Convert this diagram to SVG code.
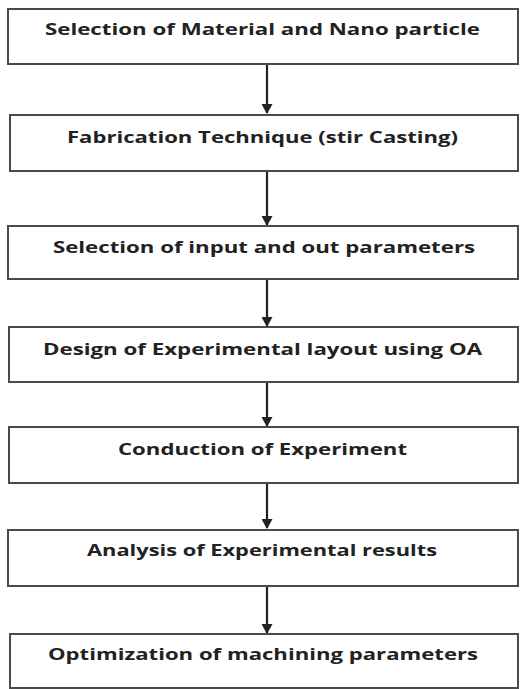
<svg xmlns="http://www.w3.org/2000/svg" width="520" height="689" viewBox="0 0 520 689">
<defs>
<style>
.box{fill:#fff;stroke:#4a4a4a;stroke-width:2}
.lbl{font-family:"Open Sans","Liberation Sans",sans-serif;font-weight:bold;font-size:16.5px;fill:#222}
.con{stroke:#222;stroke-width:2.2;fill:none}
</style>
<marker id="ah" markerWidth="10" markerHeight="11" refX="9" refY="5.5" orient="auto" markerUnits="userSpaceOnUse">
<path d="M0,0 L10,5.5 L0,11 Z" fill="#222"/>
</marker>
</defs>
<rect width="520" height="689" fill="#fff"/>
<g id="connectors">
<line class="con" x1="267" y1="65" x2="267" y2="113" marker-end="url(#ah)"/>
<line class="con" x1="267" y1="172" x2="267" y2="225" marker-end="url(#ah)"/>
<line class="con" x1="267" y1="280" x2="267" y2="326" marker-end="url(#ah)"/>
<line class="con" x1="267" y1="383" x2="267" y2="426" marker-end="url(#ah)"/>
<line class="con" x1="267" y1="484" x2="267" y2="528" marker-end="url(#ah)"/>
<line class="con" x1="267" y1="587" x2="267" y2="633" marker-end="url(#ah)"/>
</g>
<g id="n1"><rect class="box" x="8" y="9" width="510" height="55"/><text class="lbl" x="45" y="35" textLength="435" lengthAdjust="spacingAndGlyphs">Selection of Material and Nano particle</text></g>
<g id="n2"><rect class="box" x="10" y="115" width="508" height="56"/><text class="lbl" x="67" y="143" textLength="391" lengthAdjust="spacingAndGlyphs">Fabrication Technique (stir Casting)</text></g>
<g id="n3"><rect class="box" x="8" y="226" width="510" height="53"/><text class="lbl" x="53" y="253" textLength="422" lengthAdjust="spacingAndGlyphs">Selection of input and out parameters</text></g>
<g id="n4"><rect class="box" x="9" y="327" width="509" height="55"/><text class="lbl" x="43" y="355" textLength="439" lengthAdjust="spacingAndGlyphs">Design of Experimental layout using OA</text></g>
<g id="n5"><rect class="box" x="9" y="427" width="509" height="56"/><text class="lbl" x="118" y="455" textLength="289" lengthAdjust="spacingAndGlyphs">Conduction of Experiment</text></g>
<g id="n6"><rect class="box" x="8" y="530" width="510" height="56"/><text class="lbl" x="87" y="556" textLength="350" lengthAdjust="spacingAndGlyphs">Analysis of Experimental results</text></g>
<g id="n7"><rect class="box" x="10" y="634" width="508" height="54"/><text class="lbl" x="48" y="660" textLength="430" lengthAdjust="spacingAndGlyphs">Optimization of machining parameters</text></g>
</svg>
